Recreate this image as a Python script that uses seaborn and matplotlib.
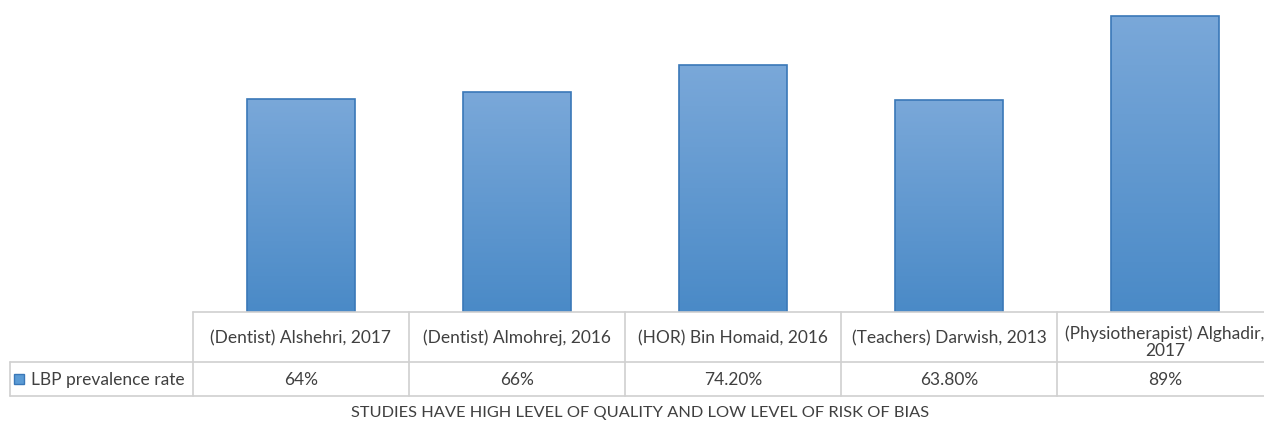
import matplotlib
matplotlib.use("Agg")
import matplotlib.pyplot as plt
import seaborn as sns
import numpy as np
import pandas as pd
from matplotlib.lines import Line2D
from matplotlib.colors import LinearSegmentedColormap

sns.set_theme(style="white")
plt.rcParams['font.family'] = ['Lato', 'DejaVu Sans']

studies = ["(Dentist) Alshehri, 2017", "(Dentist) Almohrej, 2016",
           "(HOR) Bin Homaid, 2016", "(Teachers) Darwish, 2013",
           "(Physiotherapist) Alghadir,\n2017"]
rates = [64, 66, 74.2, 63.8, 89]
rate_labels = ["64%", "66%", "74.20%", "63.80%", "89%"]
series_name = "LBP prevalence rate"
title = "STUDIES HAVE HIGH LEVEL OF QUALITY AND LOW LEVEL OF RISK OF BIAS"

df = pd.DataFrame({"study": studies, "rate": rates})

W, H = 1264, 422
fig = plt.figure(figsize=(W / 100, H / 100), dpi=100)

def fx(px):
    return px / W

def fy(py):
    return 1 - py / H

# axes: left 193 px, right ~1273 px (cut off), baseline at y=312, top beyond image
ax = fig.add_axes([fx(193), fy(312), 1080 / W, 333 / H])
sns.barplot(data=df, x="study", y="rate", ax=ax, width=0.5,
            color="#5b9bd5", edgecolor="#3a78b8", linewidth=1.2)
ax.axis("off")

# vertical gradient fill in each bar
cmap = LinearSegmentedColormap.from_list("bar", ["#4a8ac7", "#7aa8d9"])
grad = np.linspace(0, 1, 256).reshape(-1, 1)
for p in ax.patches:
    x0, y0 = p.get_x(), p.get_y()
    im = ax.imshow(grad, cmap=cmap, origin="lower", aspect="auto",
                   extent=[x0, x0 + p.get_width(), y0, y0 + p.get_height()],
                   zorder=p.get_zorder() + 0.1)
    im.set_clip_path(p)
    p.set_facecolor("none")
    p.set_zorder(p.get_zorder() + 0.2)
ax.set_xlim(-0.5, 4.5)
ax.set_ylim(0, 100)

# data table below
grid = "#d0d0d0"
txt = "#404040"
col_w = 216
left = 193
table_top, row1, row2 = 312, 362, 396

def hline(y, x0, x1):
    fig.add_artist(Line2D([fx(x0), fx(x1)], [fy(y), fy(y)], color=grid, lw=1.2))

def vline(x, y0, y1):
    fig.add_artist(Line2D([fx(x), fx(x)], [fy(y0), fy(y1)], color=grid, lw=1.2))

hline(table_top, left, W + 20)
hline(row1, 10, W + 20)
hline(row2, 10, W + 20)
for i in range(len(studies)):
    vline(left + i * col_w, table_top, row2)
vline(10, row1, row2)

fs = 12.5
for i, (s, lab) in enumerate(zip(studies, rate_labels)):
    cx = fx(left + col_w * i + col_w / 2)
    yoff = 5 if "\n" in s else 1
    fig.text(cx, fy((table_top + row1) / 2 + yoff), s, ha="center", va="center",
             fontsize=fs, color=txt, linespacing=1.05)
    fig.text(cx, fy((row1 + row2) / 2 + 1), lab, ha="center", va="center",
             fontsize=fs, color=txt)

# legend key
fig.add_artist(plt.Rectangle((fx(14), fy(384)), 10 / W, 10 / H,
                             facecolor="#5b9bd5", edgecolor="#3a78b8", lw=1))
fig.text(fx(31), fy((row1 + row2) / 2 + 1), series_name, ha="left", va="center",
         fontsize=fs, color=txt)

fig.text(fx(640), fy(413), title, ha="center", va="center",
         fontsize=11.8, color=txt)

fig.savefig("out.png", dpi=100)
